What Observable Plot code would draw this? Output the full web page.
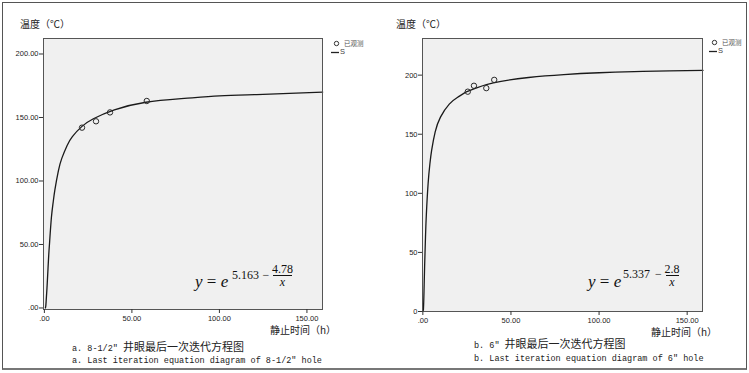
<!DOCTYPE html>
<html>
<head>
<meta charset="utf-8">
<script src="https://cdn.jsdelivr.net/npm/d3@7"></script>
<script src="https://cdn.jsdelivr.net/npm/@observablehq/plot@0.6"></script>
<style>
  html, body { margin: 0; padding: 0; background: #fff; }
  #root { position: relative; width: 749px; height: 373px; overflow: hidden; background: #fff; }
  #border { position: absolute; left: 2px; top: 2px; width: 743px; height: 365px; border: 1px solid #555; border-bottom: 2px solid #777; }
  .panel { position: absolute; top: 0; }
  .txt { position: absolute; white-space: nowrap; line-height: 1; }
  .ylab, .xlab { font-family: "Noto Sans CJK SC", sans-serif; font-size: 10px; color: #222; }
  .capzh { font-family: "Noto Sans CJK SC", sans-serif; font-size: 11px; color: #222; }
  .capzh .m { font-family: "Liberation Mono", monospace; font-size: 8.5px; }
  .capen { font-family: "Liberation Mono", monospace; font-size: 8.5px; color: #222; }
  .leg { font-family: "Noto Sans CJK SC", sans-serif; font-size: 6.5px; color: #555; }
  .legS { font-family: "Liberation Sans", sans-serif; font-size: 7.5px; color: #444; }
  .eqm { font-family: "Liberation Serif", serif; color: #111; }
</style>
</head>
<body>
<div id="root"><div id="border"></div></div>
<script>
// ---------- data ----------
const xTicks = [0, 50, 100, 150];
const xTickLabels = [".00", "50.00", "100.00", "150.00"];
const yTicks = [0, 50, 100, 150, 200];
const yTickLabelsA = [".00", "50.00", "100.00", "150.00", "200.00"];
const yTickLabelsB = ["0", "50", "100", "150", "200"];

// panel a: 8-1/2" hole
const obsAX = [21.5, 29.5, 37.5, 58.5];
const obsAY = [142, 147, 154, 163];
const curveAX = [0.6, 0.8, 1, 1.5, 2, 2.5, 3, 4, 5, 6, 8, 10, 13, 16, 21.5, 28, 40, 58, 80, 100, 120, 140, 159];
const curveAY = [0, 1.5, 5, 16, 29, 42, 52, 71, 83, 93, 108, 118, 128, 135, 143, 149, 156, 162, 165, 167, 168, 169, 170];

// panel b: 6" hole
const obsBX = [25.5, 29, 36, 40.5];
const obsBY = [186, 191, 189, 196];
const curveBX = [0.3, 0.5, 0.75, 1, 1.5, 2, 3, 4, 5, 7, 10, 15, 20, 25, 30, 40, 60, 80, 100, 120, 140, 159];
const curveBY = [1, 8.5, 23, 38, 63, 82.5, 108.5, 125, 136.5, 152, 164.5, 175.5, 181.5, 186, 189, 193.5, 198, 200.5, 202, 203, 203.6, 204.1];

const yLabel = "温度（℃）";
const xLabel = "静止时间（h）";
const legendObs = "已观测";
const legendFit = "S";

// ---------- drawing ----------
const root = document.getElementById("root");

function panel(opts) {
  const curve = opts.curveX.map((x, i) => ({x, y: opts.curveY[i]}));
  const obs = opts.obsX.map((x, i) => ({x, y: opts.obsY[i]}));
  const p = Plot.plot({
    width: opts.width, height: 373,
    marginLeft: opts.ml, marginRight: opts.mr, marginTop: 38, marginBottom: opts.mb,
    style: {fontFamily: "Liberation Sans, Arial, sans-serif", fontSize: "7.5px", color: "#222", background: "transparent", overflow: "visible"},
    x: {domain: opts.xDomain},
    y: {domain: opts.yDomain},
    marks: [
      Plot.frame({fill: "#f0f0f0"}),
      Plot.line(curve, {x: "x", y: "y", curve: "natural", stroke: "#1a1a1a", strokeWidth: 1.3}),
      Plot.dot(obs, {x: "x", y: "y", r: 2.7, stroke: "#2a2a2a", strokeWidth: 1, fill: "none"}),
      Plot.frame({stroke: "#555", strokeWidth: 1}),
      Plot.axisX(xTicks, {tickFormat: d => xTickLabels[xTicks.indexOf(d)], tickSize: 4, tickPadding: 2, label: null, stroke: "#333"}),
      Plot.axisY(yTicks, {tickFormat: d => opts.yLabels[yTicks.indexOf(d)], tickSize: 4, tickPadding: 1, label: null, stroke: "#333"})
    ]
  });
  p.classList.add("panel");
  p.style.left = opts.left + "px";
  root.appendChild(p);
}

panel({left: 0, width: 370, ml: 43, mr: 48, mb: 64, xDomain: [-0.5, 158.9], yDomain: [-1.2, 212.2],
  curveX: curveAX, curveY: curveAY, obsX: obsAX, obsY: obsAY, yLabels: yTickLabelsA});
panel({left: 370, width: 379, ml: 52, mr: 47, mb: 62, xDomain: [-0.2, 158.7], yDomain: [0, 231],
  curveX: curveBX, curveY: curveBY, obsX: obsBX, obsY: obsBY, yLabels: yTickLabelsB});

function addText(cls, html, left, top, extra) {
  const d = document.createElement("div");
  d.className = "txt " + cls;
  d.innerHTML = html;
  d.style.left = left + "px";
  d.style.top = top + "px";
  if (extra) Object.assign(d.style, extra);
  root.appendChild(d);
  return d;
}

// axis titles
addText("ylab", yLabel, 20, 19);
addText("ylab", yLabel, 396, 19);
addText("xlab", xLabel, 270, 325);
addText("xlab", xLabel, 651, 327);

// legends
function legend(x, y) {
  const s = document.createElementNS("http://www.w3.org/2000/svg", "svg");
  s.setAttribute("width", 12); s.setAttribute("height", 16);
  s.style.position = "absolute"; s.style.left = x + "px"; s.style.top = y + "px";
  s.innerHTML = '<circle cx="6.5" cy="3.5" r="2.2" fill="none" stroke="#333" stroke-width="1"/>' +
                '<line x1="1" x2="9" y1="12.5" y2="12.5" stroke="#222" stroke-width="1.3"/>';
  root.appendChild(s);
  addText("leg", legendObs, x + 14, y);
  addText("legS", legendFit, x + 10, y + 8);
}
legend(330, 40);
legend(708, 39);

// equations
function equation(a, b, o) {
  addText("eqm", "<i>y</i> = <i>e</i>", o.x, o.base - 14.2, {fontSize: "17px"});
  addText("eqm", a, o.ex, o.mid - 6.3, {fontSize: "12px"});
  addText("eqm", "−", o.mc - 10, o.mid - 6.3, {fontSize: "12px", width: "20px", textAlign: "center"});
  addText("eqm", b, o.fc - 20, o.mid - 11.8, {fontSize: "12px", width: "40px", textAlign: "center"});
  const bar = document.createElement("div");
  bar.style.cssText = `position:absolute;left:${o.fc - o.fw / 2}px;top:${o.mid}px;width:${o.fw}px;height:1px;background:#111;`;
  root.appendChild(bar);
  addText("eqm", "<i>x</i>", o.fc - 20, o.mid + 1, {fontSize: "12px", width: "40px", textAlign: "center"});
}
equation("5.163", "4.78", {x: 195, base: 287, ex: 232, mc: 266, mid: 275, fc: 282.5, fw: 19});
equation("5.337", "2.8", {x: 588, base: 287, ex: 623, mc: 658.5, mid: 274.5, fc: 672, fw: 13});

// captions
addText("capzh", '<span class="m">a. 8-1/2″ </span>井眼最后一次迭代方程图', 72, 341);
addText("capen", "a. Last iteration equation diagram of 8-1/2″ hole", 72, 356.5);
addText("capzh", '<span class="m">b. 6″ </span>井眼最后一次迭代方程图', 474, 338);
addText("capen", "b. Last iteration equation diagram of 6″ hole", 474, 355);
</script>
</body>
</html>
